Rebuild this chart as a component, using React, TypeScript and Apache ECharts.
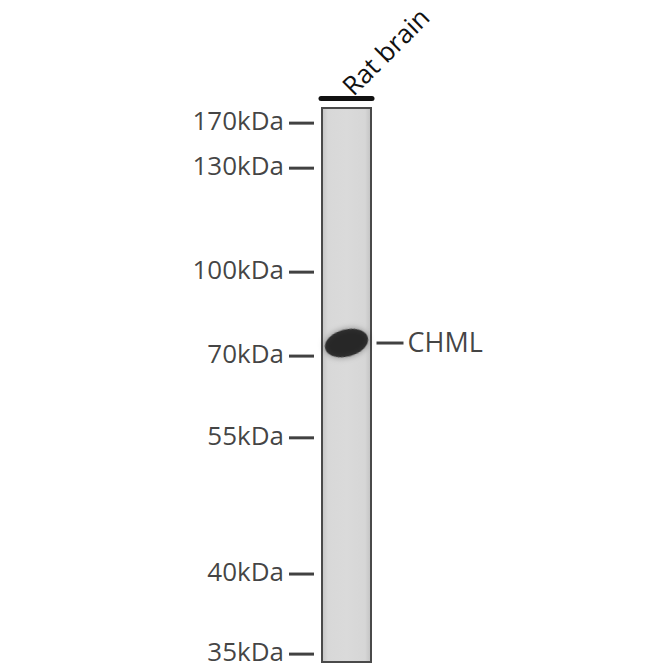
import React, { useEffect, useRef } from "react";
import * as echarts from "echarts";

// Lane name
const lanes = ["Rat brain"];
// Marker ladder: size in kDa and relative migration (0 = lane top, 1 = lane bottom)
const markerSizes = [170, 130, 100, 70, 55, 40, 35];
const markerRf = [0.029, 0.11, 0.297, 0.448, 0.595, 0.84, 0.984];
// Detected band
const bandNames = ["CHML"];
const bandRf = [0.4245];
const laneSignal = [1];

const FONT = "'Open Sans', 'Noto Sans', sans-serif";

export default function App() {
  const ref = useRef<HTMLDivElement>(null);
  useEffect(() => {
    if (!ref.current) return;
    const chart = echarts.init(ref.current, undefined, { renderer: "svg" });
    chart.setOption({
      animation: false,
      backgroundColor: "#ffffff",
      grid: { left: 321, right: 298, top: 98, bottom: 7, containLabel: false, outerBoundsMode: "none" },
      xAxis: {
        type: "category",
        data: lanes,
        position: "top",
        axisLine: { show: true, onZero: false, lineStyle: { color: "#111", width: 5 } },
        axisTick: { show: false },
        axisLabel: {
          rotate: -45,
          fontSize: 26,
          fontFamily: FONT,
          color: "#111",
          margin: 8,
        },
        splitLine: { show: false },
      },
      yAxis: {
        type: "value",
        min: -0.0162,
        max: 1,
        inverse: true,
        show: false,
      },
      series: [
        {
          type: "bar",
          data: laneSignal,
          barWidth: 51,
          silent: true,
          itemStyle: {
            color: {
              type: "linear",
              x: 0,
              y: 0,
              x2: 1,
              y2: 0,
              colorStops: [
                { offset: 0, color: "#c4c4c4" },
                { offset: 0.12, color: "#d8d8d8" },
                { offset: 0.5, color: "#dadada" },
                { offset: 0.88, color: "#d6d6d6" },
                { offset: 1, color: "#c2c2c2" },
              ],
            },
            borderColor: "#4a4a4a",
            borderWidth: 2,
          },
          z: 1,
        },
        {
          type: "scatter",
          data: bandRf.map((v) => [lanes[0], v]),
          symbol: "circle",
          symbolSize: [44, 27],
          symbolRotate: 15,
          symbolOffset: [0, 0],
          itemStyle: {
            color: "#0e0e0e",
            shadowColor: "rgba(0,0,0,0.5)",
            shadowBlur: 6,
          },
          silent: true,
          z: 3,
        },
        {
          type: "scatter",
          data: markerSizes.map((s, i) => ({ name: s + "kDa", value: [lanes[0], markerRf[i]] })),
          symbol: "rect",
          symbolSize: [25, 3],
          symbolOffset: [-45, 0],
          itemStyle: { color: "#111" },
          label: {
            show: true,
            position: "left",
            distance: 5,
            formatter: "{b}",
            fontSize: 26,
            fontFamily: FONT,
            color: "#111",
            offset: [0, -3],
          },
          silent: true,
          z: 4,
        },
        {
          type: "scatter",
          data: bandNames.map((n, i) => ({ name: n, value: [lanes[0], bandRf[i]] })),
          symbol: "rect",
          symbolSize: [27, 3],
          symbolOffset: [43.5, 0],
          itemStyle: { color: "#111" },
          label: {
            show: true,
            position: "right",
            distance: 4,
            formatter: "{b}",
            fontSize: 27,
            fontFamily: FONT,
            color: "#111",
            offset: [0, -2],
          },
          silent: true,
          z: 4,
        },
      ],
    });
    return () => chart.dispose();
  }, []);
  return (
    <div
      ref={ref}
      style={{ position: "fixed", left: 0, top: 0, width: 670, height: 670, background: "#fff" }}
    />
  );
}
